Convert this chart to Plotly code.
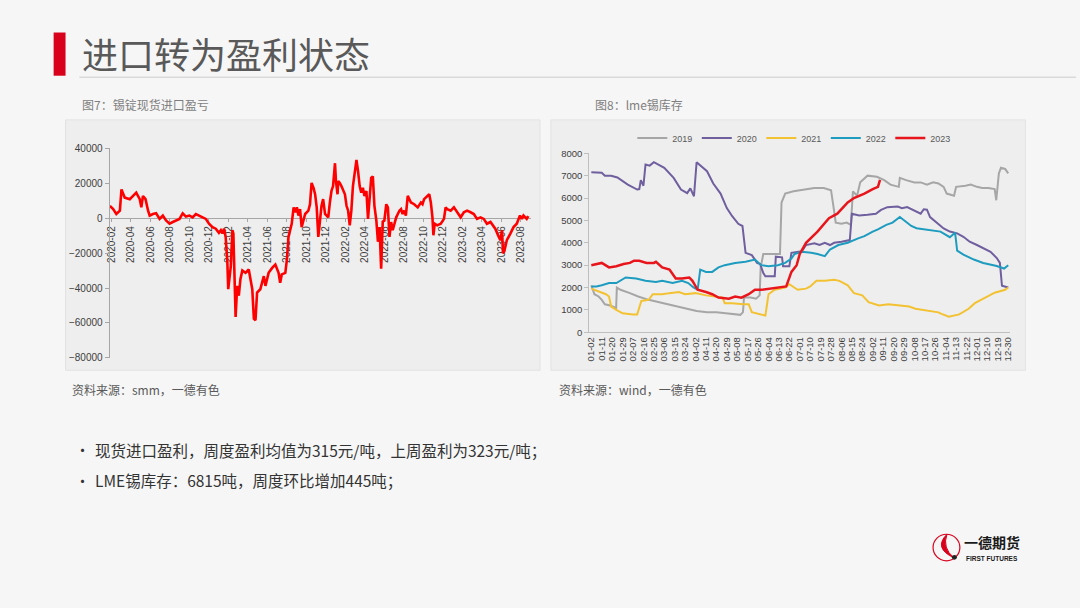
import plotly.graph_objects as go

W, H = 1080, 608

# ---------------- Left chart: 锡锭现货进口盈亏 ----------------
profit_dates = [
    "2020-01-27", "2020-02-06", "2020-02-16", "2020-02-27", "2020-03-03", "2020-03-13", "2020-03-29",
    "2020-04-08", "2020-04-18", "2020-04-29", "2020-05-04", "2020-05-09", "2020-05-17", "2020-05-25",
    "2020-05-30", "2020-06-09", "2020-06-19", "2020-06-30", "2020-07-10", "2020-07-20", "2020-07-31",
    "2020-08-10", "2020-08-20", "2020-08-31", "2020-09-10", "2020-09-20", "2020-10-01", "2020-10-11",
    "2020-10-21", "2020-10-31", "2020-11-11", "2020-11-21", "2020-12-01", "2020-12-12", "2020-12-22",
    "2021-01-01", "2021-01-07", "2021-01-12", "2021-01-17", "2021-01-22", "2021-01-27", "2021-01-30",
    "2021-02-07", "2021-02-12", "2021-02-15", "2021-02-19", "2021-02-22", "2021-02-27", "2021-03-04",
    "2021-03-09", "2021-03-15", "2021-03-25", "2021-04-04", "2021-04-15", "2021-04-20", "2021-04-25",
    "2021-04-30", "2021-05-10", "2021-05-16", "2021-05-21", "2021-05-26", "2021-06-05", "2021-06-16",
    "2021-06-26", "2021-07-06", "2021-07-11", "2021-07-16", "2021-07-27", "2021-08-01", "2021-08-06",
    "2021-08-16", "2021-08-22", "2021-08-27", "2021-09-01", "2021-09-06", "2021-09-11", "2021-09-16",
    "2021-09-27", "2021-10-07", "2021-10-12", "2021-10-17", "2021-10-23", "2021-10-28", "2021-11-02",
    "2021-11-07", "2021-11-12", "2021-11-17", "2021-11-22", "2021-11-28", "2021-12-03", "2021-12-08",
    "2021-12-13", "2021-12-18", "2021-12-23", "2021-12-29", "2022-01-01", "2022-01-06", "2022-01-08",
    "2022-01-13", "2022-01-18", "2022-01-29", "2022-02-03", "2022-02-08", "2022-02-13", "2022-02-18",
    "2022-02-23", "2022-03-01", "2022-03-06", "2022-03-11", "2022-03-16", "2022-03-21", "2022-03-26",
    "2022-03-31", "2022-04-06", "2022-04-11", "2022-04-16", "2022-04-21", "2022-04-26", "2022-05-01",
    "2022-05-07", "2022-05-12", "2022-05-17", "2022-05-22", "2022-05-27", "2022-06-01", "2022-06-07",
    "2022-06-12", "2022-06-17", "2022-06-22", "2022-06-27", "2022-07-02", "2022-07-08", "2022-07-13",
    "2022-07-18", "2022-07-23", "2022-07-28", "2022-08-02", "2022-08-07", "2022-08-13", "2022-08-18",
    "2022-08-23", "2022-09-02", "2022-09-13", "2022-09-23", "2022-09-28", "2022-10-03", "2022-10-14",
    "2022-10-19", "2022-10-24", "2022-10-29", "2022-11-01", "2022-11-05", "2022-11-13", "2022-11-24",
    "2022-12-04", "2022-12-09", "2022-12-14", "2022-12-25", "2023-01-04", "2023-01-14", "2023-01-25",
    "2023-02-04", "2023-02-14", "2023-02-25", "2023-03-07", "2023-03-17", "2023-03-28", "2023-04-07",
    "2023-04-17", "2023-04-28", "2023-05-08", "2023-05-13", "2023-05-24", "2023-05-29", "2023-06-03",
    "2023-06-06", "2023-06-10", "2023-06-18", "2023-06-29", "2023-07-09", "2023-07-19", "2023-07-24",
    "2023-07-29", "2023-08-04", "2023-08-09", "2023-08-19", "2023-08-24",
]
profit_values = [
    7100, 5200, 2400, 4300, 16500, 11800, 10900,
    12750, 14600, 10900, 6200, 12750, 10900, 4300,
    1500, 2400, 2800, -400, 1500, -1300, -3200,
    -2200, -1300, -400, 2800, 900, 1500, 500,
    2400, 1500, 500, -400, -3200, -5100, -6000,
    -8400, -6900, -8800, -6000, -10700, -23800, -40700,
    -27600, -6900, -8800, -42600, -56600, -38800, -44400,
    -35000, -30000, -31300, -29400, -40700, -57600, -58500,
    -42600, -40700, -37000, -33200, -38800, -31300, -28500,
    -26600, -31300, -37000, -32200, -31300, -23800, -10700,
    -3200, 6200, 3400, 6200, 1500, 5200, -5100,
    2400, 4300, 8000, 20200, 17400, 13700, 6200,
    -10700, -3200, 7100, 10900, 2400, 1500, 500,
    9000, 15600, 18400, 31500, 21200, 13700, 21200,
    20200, 18400, 13700, 7100, 4300, -4100, 4300,
    18400, 26800, 33400, 26800, 18400, 14600, 17400,
    12750, 15600, -400, 11800, 23100, 24000, 7100,
    -1300, -13500, -5100, -29000, -2000, -1300, 8000,
    6200, -10700, -2200, -6900, -3200, 500, 2400,
    4300, 5200, 2400, 4300, 1500, 12750, 10900,
    9000, 8000, 6200, 9000, 8000, 10900, 12750,
    13700, 9000, 500, -9800, -3200, -4100, -3200,
    -400, 6200, 5200, 4300, 6200, 3400, 500,
    3400, 4300, 3400, 2400, -400, 500, -400,
    -3200, -2200, -5100, -6000, -10700, -12600, -6900,
    -20000, -19100, -12600, -8800, -5100, -3200, -400,
    1500, -400, 1500, -400, 1200,
]
profit_yticks = [40000, 20000, 0, -20000, -40000, -60000, -80000]

# ---------------- Right chart: LME锡库存 ----------------
day_labels = [
    "01-02", "01-11", "01-20", "01-29", "02-07", "02-16", "02-25", "03-06", "03-15", "03-24",
    "04-02", "04-11", "04-20", "04-29", "05-08", "05-17", "05-26", "06-04", "06-13", "06-22",
    "07-01", "07-10", "07-19", "07-28", "08-06", "08-15", "08-24", "09-02", "09-11", "09-20",
    "09-29", "10-08", "10-17", "10-26", "11-04", "11-13", "11-22", "12-01", "12-10", "12-19",
    "12-30",
]
inv_yticks = [0, 1000, 2000, 3000, 4000, 5000, 6000, 7000, 8000]

x_2019 = [0, 0.3, 0.7, 1.0, 1.3, 1.8, 2.3, 2.38, 2.45, 2.8, 3.7, 4.5, 5.5, 6.4, 7.3, 8.2, 9.2, 10.1,
          11.1, 12, 12.9, 13.6, 14.3, 14.55, 14.65, 15.3, 15.8, 16.15, 16.25, 16.5, 17.5, 18.1, 18.25,
          18.6, 19.4, 20.5, 21.4, 22.3, 23.0, 23.3, 23.45, 24, 24.5, 24.9, 25.1, 25.5, 25.8, 26.5,
          27.4, 28.1, 28.7, 29.5, 29.6, 30.2, 31, 31.6, 32.2, 32.8, 33.3, 33.8, 34.1, 34.8, 35.0,
          35.9, 36.4, 37, 37.5, 38.1, 38.7, 38.85, 39.1, 39.3, 39.7, 40]
v_2019 = [2100, 1700, 1600, 1450, 1250, 1200, 1100, 1050, 2000, 1900, 1750, 1600, 1450, 1350,
          1250, 1150, 1050, 950, 900, 900, 850, 800, 780, 900, 1550, 1550, 1500, 1650, 2900, 3500,
          3500, 3500, 5800, 6200, 6300, 6400, 6450, 6450, 6350, 5400, 4900, 4850, 4900, 4800, 6300,
          6100, 6700, 7000, 6950, 6800, 6600, 6500, 6900, 6800, 6700, 6700, 6600, 6700, 6650, 6500,
          6200, 6100, 6500, 6550, 6600, 6500, 6450, 6450, 6400, 5900, 7100, 7350, 7300, 7100]

x_2020 = [0, 1.0, 1.3, 1.9, 2.5, 3.5, 4.4, 4.6, 4.75, 5.0, 5.2, 5.6, 6.0, 7.0, 7.9, 8.6, 9.2, 9.5,
          9.85, 10.1, 11.1, 11.7, 12.4, 13.0, 13.5, 14.1, 14.5, 14.8, 15.4, 15.9, 16.2, 16.5, 16.7,
          17.6, 17.7, 18.3, 18.4, 19.0, 19.2, 20.2, 20.6, 21.4, 21.9, 22.4, 22.9, 23.3, 24.0, 24.8,
          25.0, 25.7, 26.5, 27.3, 27.8, 28.4, 29.4, 29.8, 30.3, 31.0, 31.6, 31.9, 32.2, 32.5, 33.2,
          33.8, 34.4, 35.1, 35.7, 36.3, 37.0, 37.6, 38.3, 38.9, 39.2, 39.4, 40]
v_2020 = [7150, 7130, 7000, 7000, 6920, 6600, 6380, 6400, 6800, 6550, 7500, 7450, 7600, 7350,
          6900, 6380, 6220, 6430, 6080, 7600, 7200, 6650, 6200, 5550, 5200, 4850, 4750, 3550, 3450,
          3100, 3050, 2650, 2500, 2500, 3380, 3350, 2950, 2950, 3550, 3620, 3900, 3980, 3900, 4000,
          3900, 4000, 4050, 4120, 5300, 5220, 5250, 5300, 5470, 5590, 5620, 5550, 5600, 5450, 5300,
          5500, 5480, 5150, 4860, 4640, 4500, 4420, 4270, 4050, 3900, 3760, 3600, 3320, 3100, 2080,
          2000]

x_2021 = [0, 0.5, 1.4, 1.7, 1.9, 2.4, 3.0, 4.0, 4.4, 4.8, 5.5, 5.9, 6.8, 7.5, 8.4, 9.0, 10.0, 11.0,
          11.9, 12.6, 12.8, 13.5, 14.6, 15.1, 15.4, 16.3, 16.7, 17.0, 17.6, 18.6, 19.0, 19.8, 20.6,
          21.0, 21.6, 22.4, 23.3, 23.8, 24.6, 25.2, 26.0, 26.6, 27.6, 28.5, 29.5, 30.5, 31.1, 32.3,
          33.3, 33.6, 34.3, 35.3, 36.2, 36.8, 37.8, 38.7, 39.7, 40]
v_2021 = [1950, 1850, 1700, 1600, 1150, 1000, 850, 800, 800, 1400, 1450, 1700, 1700, 1750, 1800,
          1700, 1750, 1650, 1600, 1550, 1300, 1300, 1250, 1250, 900, 800, 750, 1700, 1900, 2000,
          2150, 1900, 1950, 2050, 2300, 2300, 2350, 2300, 2100, 1750, 1650, 1350, 1200, 1250, 1200,
          1150, 1050, 950, 890, 820, 700, 800, 1050, 1300, 1550, 1770, 1900, 2000]

x_2022 = [0, 0.5, 1.0, 1.7, 2.4, 3.3, 4.3, 5.2, 6.2, 6.8, 7.8, 8.7, 9.3, 9.8, 10.2, 10.45, 11.0,
          11.6, 12.2, 12.8, 13.8, 14.8, 15.7, 16.3, 17.0, 17.9, 18.6, 19.2, 19.5, 20.2, 21.1, 21.7,
          22.4, 22.9, 23.7, 24.6, 25.6, 26.2, 27.0, 27.5, 28.3, 28.9, 29.6, 30.2, 30.7, 31.2, 32.5,
          33.5, 34.4, 34.9, 35.1, 35.7, 36.7, 37.6, 38.9, 39.6, 40]
v_2022 = [2050, 2050, 2100, 2200, 2200, 2450, 2400, 2300, 2250, 2300, 2200, 2300, 2200, 2000,
          1900, 2800, 2700, 2700, 2900, 3000, 3100, 3150, 3250, 3000, 2950, 3000, 3100, 3300, 3500,
          3600, 3550, 3500, 3400, 3700, 3900, 4000, 4200, 4300, 4500, 4600, 4800, 4900, 5150, 4950,
          4750, 4650, 4580, 4500, 4250, 4450, 3650, 3470, 3250, 3100, 2960, 2850, 3000]

x_2023 = [0, 1.0, 1.7, 2.4, 3.1, 3.7, 4.1, 4.6, 5.3, 6.0, 6.2, 6.8, 7.5, 8.1, 8.7, 9.4, 9.7, 10.2,
          11.0, 11.6, 12.2, 13.2, 13.8, 14.4, 15.1, 15.7, 16.3, 17.0, 17.9, 18.7, 19.2, 19.7, 20.0,
          20.6, 21.7, 22.8, 23.6, 24.6, 25.2, 26.2, 27.0, 27.5, 27.7]
v_2023 = [3000, 3100, 2900, 2950, 3050, 3100, 3200, 3200, 3100, 3100, 3150, 2900, 2800, 2400,
          2400, 2450, 2300, 1900, 1800, 1700, 1550, 1500, 1600, 1550, 1700, 1900, 1900, 1950, 2000,
          2050, 2700, 3000, 3500, 4000, 4500, 5100, 5300, 5800, 6000, 6200, 6400, 6500, 6815]

series = [
    ("2019", x_2019, v_2019, "#a6a6a6", 2.0),
    ("2020", x_2020, v_2020, "#6f5f9e", 2.0),
    ("2021", x_2021, v_2021, "#f3c232", 2.0),
    ("2022", x_2022, v_2022, "#1e9cbf", 2.0),
    ("2023", x_2023, v_2023, "#e8161c", 2.5),
]


def fx(px):
    return px / W


def fy(py):
    return 1 - py / H


fig = go.Figure()

fig.add_trace(go.Scatter(
    x=profit_dates, y=profit_values, mode="lines",
    line=dict(color="#ff0000", width=2.6),
    xaxis="x", yaxis="y", showlegend=False, hoverinfo="skip",
))

for name, xs, vs, color, width in series:
    fig.add_trace(go.Scatter(
        x=xs, y=vs, mode="lines", name=name,
        line=dict(color=color, width=width),
        xaxis="x2", yaxis="y2", hoverinfo="skip",
    ))

num_font = "Liberation Sans, Arial, sans-serif"
cjk_font = "Noto Sans CJK SC, sans-serif"

fig.update_layout(
    width=W, height=H,
    margin=dict(l=0, r=0, t=0, b=0),
    paper_bgcolor="#f6f6f6",
    plot_bgcolor="rgba(0,0,0,0)",
    font=dict(family=cjk_font, color="#404040"),
    xaxis=dict(
        type="date",
        domain=[fx(106.4), fx(530.8)],
        range=["2020-01-26", "2023-09-01"],
        anchor="free", position=fy(216.1),
        tick0="2020-02-01", dtick="M2", tickformat="%Y-%m",
        tickangle=-90,
        tickfont=dict(family=num_font, size=10, color="#404040"),
        showline=True, linecolor="#a6a6a6", linewidth=1,
        ticks="outside", ticklen=3, tickcolor="#a6a6a6",
        showgrid=False, zeroline=False, layer="below traces",
    ),
    yaxis=dict(
        domain=[fy(358.3), fy(145)],
        range=[-80000, 40000],
        tickvals=profit_yticks, tickformat="d",
        tickfont=dict(family=num_font, size=10, color="#404040"),
        showline=True, linecolor="#a6a6a6", linewidth=1,
        ticks="outside", ticklen=4, tickcolor="#a6a6a6",
        showgrid=False, zeroline=False, anchor="x",
    ),
    xaxis2=dict(
        domain=[fx(589.6), fx(1013.3)],
        range=[-0.2, 40.15],
        anchor="y2",
        tickvals=list(range(len(day_labels))), ticktext=day_labels,
        tickangle=-90,
        tickfont=dict(family=num_font, size=9.5, color="#404040"),
        showline=True, linecolor="#bfbfbf", linewidth=1,
        ticks="", showgrid=False, zeroline=False,
    ),
    yaxis2=dict(
        domain=[fy(332.3), fy(150)],
        range=[0, 8000],
        tickvals=inv_yticks, tickformat="d",
        anchor="x2",
        tickfont=dict(family=num_font, size=9.5, color="#404040"),
        showline=True, linecolor="#bfbfbf", linewidth=1,
        ticks="outside", ticklen=4, tickcolor="#bfbfbf",
        showgrid=False, zeroline=False,
    ),
    legend=dict(
        orientation="h", x=fx(633), y=fy(134.5), xanchor="left", yanchor="middle",
        font=dict(family=num_font, size=9, color="#595959"),
        bgcolor="rgba(0,0,0,0)", entrywidth=19.5, entrywidthmode="pixels",
        itemclick=False,
    ),
)

shapes = [
    # red marker bar & title underline
    dict(type="rect", x0=fx(50), x1=fx(62), y0=fy(71), y1=fy(27), fillcolor="#d9001b", line=dict(width=0)),
    dict(type="line", x0=fx(76), x1=1, y0=fy(72.5), y1=fy(72.5), line=dict(color="#d9d9d9", width=1.5)),
    # chart panels
    dict(type="rect", x0=fx(62), x1=fx(540), y0=fy(371), y1=fy(116), fillcolor="#eeeeee",
         line=dict(color="#e2e2e2", width=1), layer="below"),
    dict(type="rect", x0=fx(551), x1=fx(1029), y0=fy(371), y1=fy(116), fillcolor="#eeeeee",
         line=dict(color="#e2e2e2", width=1), layer="below"),
    # logo emblem
    dict(type="circle", x0=fx(936), x1=fx(963), y0=fy(565), y1=fy(538),
         line=dict(color="#d9001b", width=1.2)),
    dict(type="path", path="M %f %f Q %f %f %f %f Q %f %f %f %f Z" % (
        fx(957), fy(562), fx(936), fy(552), fx(950), fy(538), fx(945), fy(552), fx(957), fy(562)),
        fillcolor="#d9001b", line=dict(color="#d9001b", width=1)),
    dict(type="circle", x0=fx(955), x1=fx(960), y0=fy(564), y1=fy(559),
         fillcolor="#222222", line=dict(width=0)),
]
for s in shapes:
    s.setdefault("xref", "paper")
    s.setdefault("yref", "paper")
fig.update_layout(shapes=shapes)

annos = [
    dict(text="进口转为盈利状态", x=fx(78), y=fy(48), size=36, color="#595959"),
    dict(text="图7：锡锭现货进口盈亏", x=fx(78), y=fy(100), size=12, color="#7f7f7f"),
    dict(text="图8：lme锡库存", x=fx(594), y=fy(100), size=12, color="#7f7f7f"),
    dict(text="资料来源：smm，一德有色", x=fx(68), y=fy(391), size=12, color="#595959"),
    dict(text="资料来源：wind，一德有色", x=fx(558), y=fy(391), size=12, color="#595959"),
    dict(text="•", x=fx(71), y=fy(452), size=15, color="#333333"),
    dict(text="现货进口盈利，周度盈利均值为315元/吨，上周盈利为323元/吨；", x=fx(91), y=fy(452), size=15.5,
         color="#333333"),
    dict(text="•", x=fx(71), y=fy(483), size=15, color="#333333"),
    dict(text="LME锡库存：6815吨，周度环比增加445吨；", x=fx(91), y=fy(483), size=15.5, color="#333333"),
    dict(text="<b>一德期货</b>", x=fx(966), y=fy(546), size=14, color="#1a1a1a"),
    dict(text="<b>FIRST FUTURES</b>", x=fx(968), y=fy(563), size=6.5, color="#1a1a1a", family=num_font),
]
for a in annos:
    fig.add_annotation(
        text=a["text"], x=a["x"], y=a["y"], xref="paper", yref="paper",
        xanchor="left", yanchor="middle", showarrow=False, borderpad=0,
        font=dict(family=a.get("family", cjk_font), size=a["size"], color=a["color"]),
    )

fig.write_html("out.html")
